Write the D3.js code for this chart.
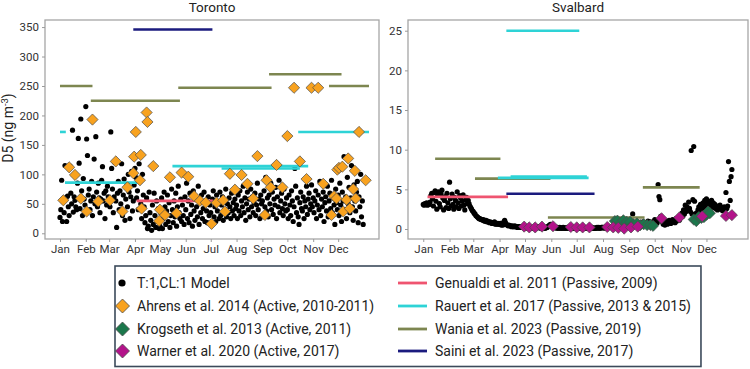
<!DOCTYPE html>
<html><head><meta charset="utf-8">
<script src="https://cdn.jsdelivr.net/npm/d3@7"></script>
<style>
body{margin:0;background:#fff;}
text{font-family:Roboto,"Noto Sans",sans-serif;}
</style></head>
<body><svg id="chart" width="750" height="369"></svg>
<script>
// ---------- DATA ----------
const monthStarts = [0,31,59,90,120,151,181,212,243,273,304,334];
const monthLabels = ["Jan","Feb","Mar","Apr","May","Jun","Jul","Aug","Sep","Oct","Nov","Dec"];
const torontoTicks = [0,50,100,150,200,250,300,350];
const svalbardTicks = [0,5,10,15,20,25];

// Daily model values (index = day of year), Toronto
const torontoModel = [
27,40,90,20,55,35,115,60,20,63,45,30,114,68,50,175,36,62,56,45,40,85,161,119,42,194,72,30,93,58,48,
215,160,132,65,75,40,55,88,30,62,126,50,164,70,45,85,60,35,58,90,113,55,68,25,72,48,80,62,
60,45,172,110,75,35,62,120,55,10,68,88,40,72,50,118,30,65,92,22,58,80,45,100,70,25,62,105,38,55,82,
110,95,60,72,40,118,88,50,25,100,65,45,18,30,60,8,12,70,35,22,5,48,15,68,30,10,55,20,42,8,
12,35,60,8,25,70,45,15,38,65,20,52,10,30,75,40,18,55,28,68,12,45,80,35,25,58,20,48,30,15,62,
40,85,25,55,18,68,32,48,12,72,38,22,60,45,28,80,15,52,35,65,25,42,70,20,55,38,18,62,30,48,
35,15,58,72,28,45,20,65,38,52,25,70,30,48,62,22,55,40,75,28,50,35,60,45,25,68,38,52,30,58,42,
48,25,65,38,72,30,55,45,80,35,60,22,50,70,40,58,28,75,45,62,35,52,68,30,48,85,40,58,25,65,50,
55,30,72,45,95,38,60,28,65,50,85,40,70,32,58,48,78,25,62,45,90,35,55,68,42,30,75,50,38,60,
40,25,65,48,30,72,55,20,45,110,80,35,60,28,15,52,70,42,38,62,25,55,45,80,32,58,68,40,50,82,45,
60,35,55,72,25,48,65,40,88,30,58,45,70,20,52,62,38,80,28,55,68,42,90,35,60,48,15,75,52,40,
65,30,85,48,20,70,55,130,40,62,25,95,50,78,35,60,115,45,22,82,55,38,70,88,18,62,45,100,28,55,15];

// Daily model values (index = day of year), Svalbard
const svalbardModel = [
3.1,3.0,3.2,3.1,3.3,3.0,3.2,3.1,3.4,4.2,4.5,3.8,2.9,4.6,4.8,3.5,2.5,4.3,4.7,3.2,2.8,4.4,4.9,3.9,2.4,3.6,4.1,2.7,4.5,3.3,2.6,
5.9,3.8,2.9,4.4,3.1,2.5,4.0,3.6,2.8,4.7,3.3,2.6,4.2,3.9,2.9,3.5,4.3,3.0,2.4,3.7,4.0,3.2,3.6,3.2,2.9,2.7,2.5,2.3,
2.2,2.0,1.9,1.7,1.6,1.5,1.4,1.3,1.3,1.2,1.2,1.1,1.2,1.0,1.0,1.1,0.9,1.0,0.9,0.8,0.9,0.8,0.7,0.8,0.7,0.9,0.6,0.7,0.6,0.7,0.6,
0.6,0.7,0.5,0.6,0.5,0.9,1.1,0.8,0.6,0.5,0.4,0.5,0.4,0.4,0.3,0.4,0.3,0.3,0.4,0.3,0.3,0.2,0.3,0.3,0.2,0.3,0.2,0.2,0.3,0.2,
0.2,0.2,0.1,0.2,0.2,0.1,0.2,0.1,0.2,0.2,0.1,0.1,0.2,0.1,0.2,0.3,0.2,0.2,0.1,0.2,0.2,0.1,0.2,0.1,0.1,0.2,0.2,0.3,0.4,0.5,0.6,
0.5,0.4,0.3,0.3,0.2,0.2,0.1,0.2,0.1,0.1,0.2,0.1,0.1,0.1,0.2,0.1,0.1,0.1,0.1,0.2,0.1,0.1,0.1,0.1,0.1,0.1,0.2,0.1,0.1,0.1,
0.1,0.1,0.2,0.1,0.1,0.1,0.1,0.2,0.1,0.1,0.1,0.1,0.1,0.2,0.1,0.1,0.1,0.1,0.2,0.1,0.1,0.1,0.1,0.1,0.2,0.1,0.2,0.1,0.1,0.2,0.2,
0.2,0.1,0.2,0.2,0.1,0.2,0.3,0.2,0.2,0.3,0.2,0.3,0.3,0.2,0.4,0.3,0.3,0.5,0.4,0.3,0.6,0.5,0.4,0.7,0.5,0.6,0.4,0.8,0.6,0.5,0.7,
0.6,0.8,0.5,0.9,1.9,0.7,0.6,0.8,0.5,0.7,0.9,0.6,0.8,0.5,0.7,0.6,0.9,0.8,0.6,0.7,0.5,0.8,1.0,0.7,0.6,0.9,0.8,0.7,0.6,0.9,
1.2,0.9,1.0,0.8,5.6,4.1,3.7,1.6,1.2,0.9,0.6,0.8,0.5,0.7,1.0,0.6,0.9,1.1,0.8,0.7,1.0,1.2,0.9,1.1,0.8,1.3,1.0,1.2,1.5,1.1,1.4,
1.7,2.0,1.6,2.4,1.9,3.0,2.2,2.8,2.5,3.4,2.6,2.2,9.9,1.9,3.7,10.4,3.5,1.5,2.0,1.6,2.4,2.8,2.2,3.1,2.5,2.9,3.3,2.7,3.6,3.0,
3.8,3.1,2.9,3.5,3.2,3.0,3.6,2.8,3.3,2.7,3.1,2.6,2.9,2.4,2.8,2.6,3.0,2.5,2.7,2.3,2.5,2.8,2.4,4.6,2.6,2.9,8.5,6.0,3.6,6.6,7.5];

// Ahrens et al. 2014 (Toronto)
const ahrensDays = [4,11,18,25,32,39,46,60,67,75,81,88,89,91,96,97,98,104,105,112,119,120,126,132,140,146,154,161,168,175,182,188,196,198,204,210,218,225,232,237,246,248,253,260,267,273,281,288,296,302,310,316,326,329,332,333,335,339,340,344,346,348,352,354,355,359,367];
const ahrensValues = [56,112,99,59,37,193,54,56,122,37,78,102,130,172,90,133,42,205,189,114,21,40,31,95,34,103,96,63,55,52,16,52,56,37,101,74,99,84,59,131,31,90,78,116,78,165,247,122,92,247,247,84,31,63,59,108,111,113,37,57,127,42,75,106,59,172,90];

// Krogseth et al. 2013 (Svalbard)
const krogsethDays = [226,229,233,236,240,244,248,252,256,260,264,268,271,319,322,325,328,331,334,336,338];
const krogsethValues = [1.0,1.05,0.8,1.1,0.9,0.9,0.6,0.7,0.5,0.6,0.5,0.5,0.4,1.2,1.0,1.5,1.4,1.5,1.8,2.2,2.0];

// Warner et al. 2020 (Svalbard)
const warnerDays = [119,125,132,140,153,174,181,188,196,217,224,230,237,245,253,281,302,329,357,364];
const warnerValues = [0.3,0.2,0.2,0.3,0.35,0.25,0.2,0.2,0.2,0.25,0.2,0.15,0.05,0.2,0.3,1.35,1.45,1.6,1.65,1.75];

// Passive sampler periods: study, start day, end day, value
const torontoPeriodStudy = ["Rauert","Rauert","Rauert","Rauert","Rauert","Genualdi","Wania","Wania","Wania","Wania","Wania","Saini"];
const torontoPeriodStart = [0,6,135,194,286,92,0,37,142,251,323,88];
const torontoPeriodEnd   = [7,93,298,288,371,184,39,144,254,338,371,183];
const torontoPeriodValue = [172,86,114,110,172,55,250,225,247,270,250,346];

const svalbardPeriodStudy = ["Wania","Wania","Wania","Wania","Rauert","Rauert","Rauert","Genualdi","Saini"];
const svalbardPeriodStart = [14,61,147,259,88,103,98,5,98];
const svalbardPeriodEnd   = [91,150,261,326,195,193,184,100,202];
const svalbardPeriodValue = [8.85,6.35,1.45,5.25,6.45,6.6,25,4.05,4.45];

// ---------- STYLE ----------
const lineColor = {Genualdi:"#ef5470", Rauert:"#2ed3d6", Wania:"#7d8650", Saini:"#1b1b7e"};
const markColor = {Ahrens:"#f8a21f", Krogseth:"#1b774b", Warner:"#b3138a"};

const svg = d3.select("#chart");

function diamondPath(r){ return `M0,${-r}L${r},0L0,${r}L${-r},0Z`; }

function drawPanel(cfg){
  const x = d3.scaleLinear().domain([-18,383]).range([cfg.x0,cfg.x1]);
  const y = d3.scaleLinear().domain(cfg.yDomain).range([cfg.y1,cfg.y0]);
  const g = svg.append("g");

  g.append("rect").attr("x",cfg.x0).attr("y",cfg.y0)
    .attr("width",cfg.x1-cfg.x0).attr("height",cfg.y1-cfg.y0)
    .attr("fill","#fff").attr("stroke","#a6a6a6").attr("stroke-width",1.3);

  const ya = g.append("g").attr("transform",`translate(${cfg.x0},0)`)
    .call(d3.axisLeft(y).tickValues(cfg.yTicks).tickSize(3).tickPadding(3));
  const xa = g.append("g").attr("transform",`translate(0,${cfg.y1})`)
    .call(d3.axisBottom(x).tickValues(monthStarts).tickFormat((d,i)=>monthLabels[i]).tickSize(3).tickPadding(3));
  [ya,xa].forEach(a=>{
    a.select(".domain").remove();
    a.selectAll(".tick line").attr("stroke","#9a9a9a");
    a.selectAll(".tick text").attr("fill","#333").style("font-size","11.5px").style("font-family","Roboto");
  });

  g.append("text").attr("x",(cfg.x0+cfg.x1)/2).attr("y",12).attr("text-anchor","middle")
    .style("font-size","13.5px").attr("fill","#222").text(cfg.title);

  // model dots
  g.append("g").selectAll("circle").data(cfg.model).join("circle")
    .attr("cx",(d,i)=>x(i)).attr("cy",d=>y(d)).attr("r",2.6).attr("fill","#000");

  // period lines
  g.append("g").selectAll("line").data(cfg.periods).join("line")
    .attr("x1",d=>x(d.s)).attr("x2",d=>x(d.e)).attr("y1",d=>y(d.v)).attr("y2",d=>y(d.v))
    .attr("stroke",d=>lineColor[d.study]).attr("stroke-width",2.6);

  // diamonds
  cfg.marks.forEach(m=>{
    g.append("g").selectAll("path").data(m.days).join("path")
      .attr("transform",(d,i)=>`translate(${x(d)},${y(m.values[i])})`)
      .attr("d",diamondPath(5.6)).attr("fill",markColor[m.name])
      .attr("stroke","#4a4a4a").attr("stroke-width",0.7);
  });
}

const tPeriods = torontoPeriodStudy.map((s,i)=>({study:s,s:torontoPeriodStart[i],e:torontoPeriodEnd[i],v:torontoPeriodValue[i]}));
const sPeriods = svalbardPeriodStudy.map((s,i)=>({study:s,s:svalbardPeriodStart[i],e:svalbardPeriodEnd[i],v:svalbardPeriodValue[i]}));

drawPanel({title:"Toronto",x0:45,x1:379,y0:20,y1:239,yDomain:[-9.7,362],yTicks:torontoTicks,
  model:torontoModel,periods:tPeriods,
  marks:[{name:"Ahrens",days:ahrensDays,values:ahrensValues}]});
drawPanel({title:"Svalbard",x0:408,x1:748,y0:20,y1:239,yDomain:[-1.26,26.35],yTicks:svalbardTicks,
  model:svalbardModel,periods:sPeriods,
  marks:[{name:"Krogseth",days:krogsethDays,values:krogsethValues},{name:"Warner",days:warnerDays,values:warnerValues}]});

// y axis title
const yt = svg.append("text").attr("transform","translate(13,128) rotate(-90)")
  .attr("text-anchor","middle").style("font-size","14px").attr("fill","#222");
yt.append("tspan").text("D5 (ng m");
yt.append("tspan").attr("dy",-5).style("font-size","9.5px").text("-3");
yt.append("tspan").attr("dy",5).text(")");

// ---------- LEGEND ----------
const legendLeft = ["T:1,CL:1 Model","Ahrens et al. 2014 (Active, 2010-2011)","Krogseth et al. 2013 (Active, 2011)","Warner et al. 2020 (Active, 2017)"];
const legendRight = ["Genualdi et al. 2011 (Passive, 2009)","Rauert et al. 2017 (Passive, 2013 & 2015)","Wania et al. 2023 (Passive, 2019)","Saini et al. 2023 (Passive, 2017)"];
const legendRightKeys = ["Genualdi","Rauert","Wania","Saini"];
const legendLeftKeys = [null,"Ahrens","Krogseth","Warner"];
const rowY = [283,306,329,351];

const lg = svg.append("g");
const box = lg.append("rect").attr("x",115).attr("y",266).attr("height",100.5)
  .attr("fill","#fff").attr("stroke","#3b4a5a").attr("stroke-width",1.6);
let maxEnd = 0;
legendLeft.forEach((t,i)=>{
  if(i===0) lg.append("circle").attr("cx",122).attr("cy",rowY[i]).attr("r",3.6).attr("fill","#000");
  else lg.append("path").attr("transform",`translate(122.5,${rowY[i]})`).attr("d",diamondPath(7))
    .attr("fill",markColor[legendLeftKeys[i]]).attr("stroke","#4a4a4a").attr("stroke-width",0.8);
  lg.append("text").attr("x",137).attr("y",rowY[i]).attr("dy","0.36em")
    .style("font-size","14px").attr("fill","#222").text(t);
});
legendRight.forEach((t,i)=>{
  lg.append("line").attr("x1",398).attr("x2",427).attr("y1",rowY[i]).attr("y2",rowY[i])
    .attr("stroke",lineColor[legendRightKeys[i]]).attr("stroke-width",2.8);
  const tx = lg.append("text").attr("x",435).attr("y",rowY[i]).attr("dy","0.36em")
    .style("font-size","14px").attr("fill","#222").text(t);
  maxEnd = Math.max(maxEnd, 435 + tx.node().getComputedTextLength());
});
box.attr("width", Math.min(maxEnd + 10, 745) - 115);
</script>
</body></html>
